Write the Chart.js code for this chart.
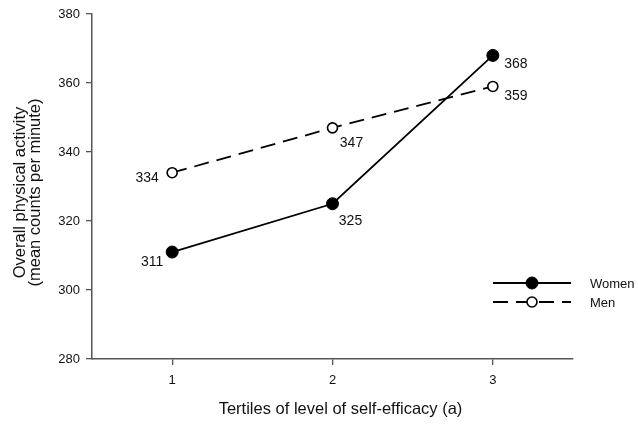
<!DOCTYPE html>
<html>
<head>
<meta charset="utf-8">
<script src="https://cdn.jsdelivr.net/npm/chart.js@4.4.1/dist/chart.umd.min.js"></script>
<style>
  html, body { margin: 0; padding: 0; background: #fff; }
  #wrap { width: 638px; height: 425px; }
</style>
</head>
<body>
<div id="wrap"><canvas id="c" width="638" height="425"></canvas></div>
<script>
// Tertiles of self-efficacy and mean activity counts per minute
const tertiles = [1, 2, 3];
const women = [311, 325, 368];
const men = [334, 347, 359];
const yTicks = [280, 300, 320, 340, 360, 380];
const seriesNames = ['Women', 'Men'];
const xTitle = 'Tertiles of level of self-efficacy (a)';
const yTitle = ['Overall physical activity', '(mean counts per minute)'];

// label offsets (px) from each point, per series
const labelOffsets = [
  [[-20, 10], [18, 17], [23, 9]],
  [[-25, 5], [19, 15], [23, 10]]
];

const FONT = '"Liberation Sans", Arial, sans-serif';
const AXIS = '#555';
const TEXT = '#111';

const valueLabels = {
  id: 'valueLabels',
  afterDatasetsDraw(chart) {
    const ctx = chart.ctx;
    ctx.save();
    ctx.font = '14px ' + FONT;
    ctx.fillStyle = TEXT;
    ctx.textAlign = 'center';
    ctx.textBaseline = 'middle';
    chart.data.datasets.forEach((ds, i) => {
      const meta = chart.getDatasetMeta(i);
      meta.data.forEach((pt, j) => {
        const off = labelOffsets[i][j];
        ctx.fillText(String(Math.round(ds.data[j].y)), pt.x + off[0], pt.y + off[1]);
      });
    });
    ctx.restore();
  }
};

// axis titles, placed just outside the plot frame
const axisTitles = {
  id: 'axisTitles',
  afterDraw(chart) {
    const ctx = chart.ctx;
    const a = chart.chartArea;
    ctx.save();
    ctx.fillStyle = TEXT;
    ctx.font = '16.5px ' + FONT;
    ctx.textAlign = 'center';
    ctx.textBaseline = 'middle';
    ctx.fillText(xTitle, (a.left + a.right) / 2 + 8, a.bottom + 50);
    ctx.translate(20, (a.top + a.bottom) / 2 + 6);
    ctx.rotate(-Math.PI / 2);
    yTitle.forEach((line, k) => ctx.fillText(line, 0, k * 15.5));
    ctx.restore();
  }
};

const lineLegend = {
  id: 'lineLegend',
  afterDraw(chart) {
    const ctx = chart.ctx;
    const a = chart.chartArea;
    const x0 = a.right - 80, x1 = a.right - 2, xm = a.right - 41;
    ctx.save();
    chart.data.datasets.forEach((ds, i) => {
      const y = a.top + 269 + i * 19;
      ctx.strokeStyle = ds.borderColor;
      ctx.lineWidth = ds.borderWidth;
      ctx.setLineDash(ds.borderDash || []);
      ctx.beginPath();
      ctx.moveTo(x0, y);
      ctx.lineTo(x1, y);
      ctx.stroke();
      ctx.setLineDash([]);
      ctx.beginPath();
      ctx.arc(xm, y, ds.pointRadius, 0, Math.PI * 2);
      ctx.fillStyle = ds.pointBackgroundColor;
      ctx.fill();
      ctx.lineWidth = ds.pointBorderWidth;
      ctx.strokeStyle = ds.pointBorderColor;
      ctx.stroke();
      ctx.fillStyle = TEXT;
      ctx.font = '13px ' + FONT;
      ctx.textAlign = 'left';
      ctx.textBaseline = 'middle';
      ctx.fillText(ds.label, a.right + 17, y + 1);
    });
    ctx.restore();
  }
};

const toPoints = arr => arr.map((v, i) => ({ x: tertiles[i], y: v }));

new Chart(document.getElementById('c'), {
  type: 'line',
  data: {
    datasets: [
      {
        label: seriesNames[0],
        data: toPoints(women),
        borderColor: '#000',
        borderWidth: 1.8,
        pointRadius: 6,
        pointBackgroundColor: '#000',
        pointBorderColor: '#000',
        pointBorderWidth: 1,
        tension: 0
      },
      {
        label: seriesNames[1],
        data: toPoints(men),
        borderColor: '#000',
        borderWidth: 1.8,
        borderDash: [15, 8],
        pointRadius: 5,
        pointBackgroundColor: '#fff',
        pointBorderColor: '#000',
        pointBorderWidth: 1.6,
        tension: 0
      }
    ]
  },
  options: {
    responsive: false,
    animation: false,
    devicePixelRatio: 1,
    layout: { padding: { top: 14, right: 65, left: 0, bottom: 0 } },
    plugins: { legend: { display: false }, tooltip: { enabled: false } },
    scales: {
      x: {
        type: 'linear',
        min: 0.5,
        max: 3.5,
        afterBuildTicks: s => { s.ticks = tertiles.map(v => ({ value: v })); },
        afterFit: s => { s.height = 66; },
        grid: { display: true, drawOnChartArea: false, drawTicks: true, tickLength: 6, color: AXIS, lineWidth: 1.3 },
        border: { display: true, color: AXIS, width: 1.5 },
        ticks: { color: TEXT, font: { family: FONT, size: 13 }, padding: 8 }
      },
      y: {
        min: 280,
        max: 380,
        afterBuildTicks: s => { s.ticks = yTicks.map(v => ({ value: v })); },
        afterFit: s => { s.width = 92; },
        grid: { display: true, drawOnChartArea: false, drawTicks: true, tickLength: 6, color: AXIS, lineWidth: 1.3 },
        border: { display: true, color: AXIS, width: 1.5 },
        ticks: { color: TEXT, font: { family: FONT, size: 13 }, padding: 6 }
      }
    }
  },
  plugins: [valueLabels, axisTitles, lineLegend]
});
</script>
</body>
</html>
